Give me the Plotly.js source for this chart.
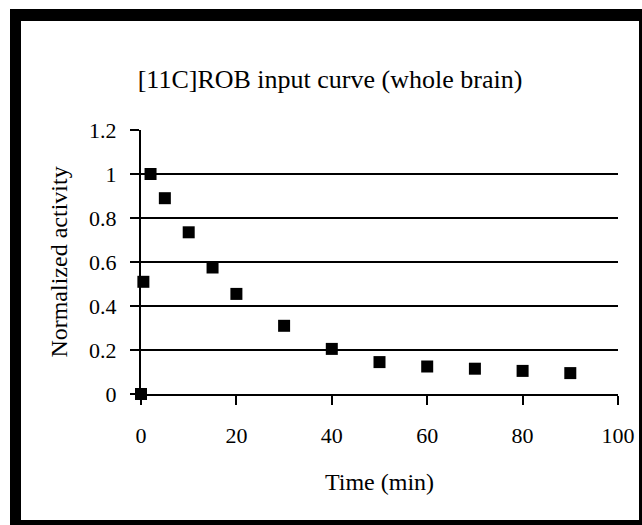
<!DOCTYPE html>
<html>
<head>
<meta charset="utf-8">
<script src="https://cdn.plot.ly/plotly-3.0.1.min.js"></script>
<style>
html, body { margin: 0; padding: 0; background: #fff; }
#chart { width: 642px; height: 525px; }
</style>
</head>
<body>
<div id="chart"></div>
<script>
// Data
var timeMin = [0, 0.5, 2, 5, 10, 15, 20, 30, 40, 50, 60, 70, 80, 90];
var normalizedActivity = [0, 0.51, 1.0, 0.89, 0.735, 0.575, 0.455, 0.31, 0.205, 0.145, 0.125, 0.115, 0.105, 0.095];
var chartTitle = "[11C]ROB input curve (whole brain)";
var xTitle = "Time (min)";
var yTitle = "Normalized activity";

// Plot area geometry (pixels in 642x525 page)
var W = 642, H = 525;
var L = 141, R = 618, T = 130, B = 394;
function px(x) { return (x - L) / (R - L); }
function py(y) { return (B - y) / (B - T); }
function frameRect(x0, y0, x1, y1) {
  return { type: 'rect', xref: 'paper', yref: 'paper', layer: 'above',
    x0: px(x0), x1: px(x1), y0: py(y1), y1: py(y0),
    fillcolor: '#000', line: { width: 0 } };
}

var serif = 'Liberation Serif, Times New Roman, serif';

var trace = {
  x: timeMin,
  y: normalizedActivity,
  type: 'scatter',
  mode: 'markers',
  cliponaxis: false,
  marker: { symbol: 'square', size: 12, color: '#000' },
  showlegend: false
};

var layout = {
  width: W, height: H,
  paper_bgcolor: '#fff', plot_bgcolor: '#fff',
  margin: { l: L, r: W - R, t: T, b: H - B, pad: 0 },
  font: { family: serif, color: '#000', size: 22 },
  title: { text: chartTitle, font: { family: serif, size: 26, color: '#000' },
    x: 330 / W, xref: 'container', xanchor: 'center',
    y: 1 - 79 / H, yref: 'container', yanchor: 'middle' },
  xaxis: {
    range: [0, 100], dtick: 20, tick0: 0,
    showgrid: false, zeroline: false,
    showline: true, linecolor: '#000', linewidth: 2,
    ticks: 'outside', ticklen: 9, tickwidth: 2, tickcolor: '#000',
    ticklabelstandoff: 12,
    tickfont: { family: serif, size: 22, color: '#000' },
    title: { text: xTitle, font: { family: serif, size: 24, color: '#000' }, standoff: 26 }
  },
  yaxis: {
    range: [0, 1.2], dtick: 0.2, tick0: 0,
    showgrid: true, gridcolor: '#000', gridwidth: 2,
    zeroline: false,
    showline: true, linecolor: '#000', linewidth: 2,
    ticks: 'outside', ticklen: 9, tickwidth: 2, tickcolor: '#000',
    ticklabelstandoff: 9,
    tickfont: { family: serif, size: 22, color: '#000' },
    title: { text: yTitle, font: { family: serif, size: 24, color: '#000' }, standoff: 15 }
  },
  shapes: [
    frameRect(10, 9, 642, 21),
    frameRect(10, 9, 21, 525),
    frameRect(639, 9, 642, 525),
    frameRect(10, 520, 642, 525)
  ]
};

Plotly.newPlot('chart', [trace], layout, { displayModeBar: false, staticPlot: true });
</script>
</body>
</html>
